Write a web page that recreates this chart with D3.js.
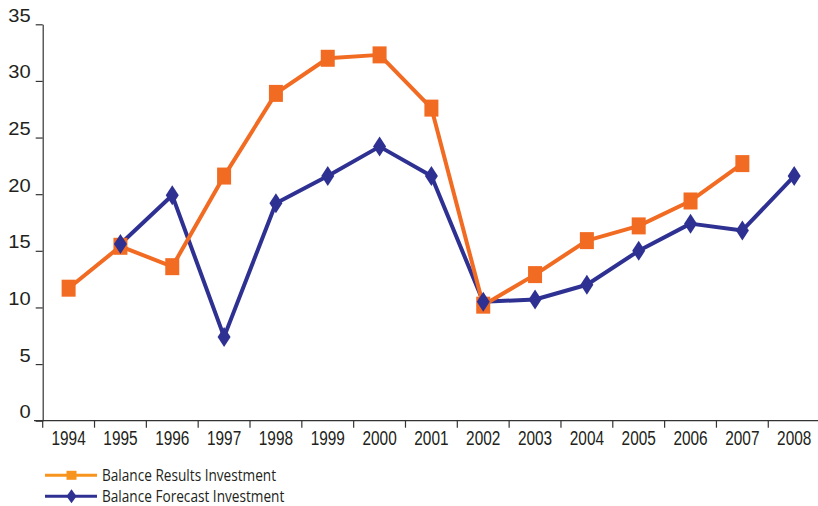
<!DOCTYPE html>
<html>
<head>
<meta charset="utf-8">
<script src="https://cdn.jsdelivr.net/npm/d3@7/dist/d3.min.js"></script>
<style>
  html, body { margin: 0; padding: 0; background: #fff; }
  svg { display: block; font-family: "Open Sans", "Noto Sans", sans-serif; }
</style>
</head>
<body>
<svg id="chart" width="818" height="506"></svg>
<script>
// Investment balance, results vs forecast (percent)
const years = ["1994","1995","1996","1997","1998","1999","2000","2001","2002","2003","2004","2005","2006","2007","2008"];
const resultsValues  = [11.7, 15.4, 13.6, 21.6, 28.9, 32.0, 32.3, 27.6, 10.2, 12.9, 15.9, 17.2, 19.4, 22.7, null];
const forecastValues = [null, 15.6, 19.9, 7.4, 19.2, 21.6, 24.2, 21.6, 10.5, 10.7, 12.0, 15.0, 17.4, 16.8, 21.6];
const yTicks = [0, 5, 10, 15, 20, 25, 30, 35];
const seriesNames = ["Balance Results Investment", "Balance Forecast Investment"];

const ORANGE = "#F26B22";
const ORANGE_KEY = "#F7941E";
const BLUE = "#2E3192";
const AXIS = "#333333";

const svg = d3.select("#chart");

const x = d3.scaleBand().domain(years).range([42.7, 820.1]).padding(0);
const y = d3.scaleLinear().domain([0, 35]).range([420.7, 24.3]);

// Y axis
const yAxis = svg.append("g")
  .attr("transform", "translate(42.7,0)")
  .call(d3.axisLeft(y).tickValues(yTicks).tickSize(7).tickSizeOuter(0).tickPadding(0));
yAxis.select(".domain").attr("stroke", AXIS).attr("stroke-width", 1.2);
yAxis.selectAll(".tick line").attr("stroke", AXIS).attr("stroke-width", 1.2);
yAxis.selectAll(".tick text")
  .attr("x", null).attr("dy", null)
  .attr("fill", "#231F20")
  .attr("font-size", 17.5)
  .attr("text-anchor", "end")
  .attr("transform", "translate(-12,-3) scale(1.15,1)");

// X axis: labels centred in each band, ticks on band edges
const xAxis = svg.append("g")
  .attr("transform", "translate(0,420.7)")
  .call(d3.axisBottom(x).tickSize(0).tickSizeOuter(0).tickPadding(0));
xAxis.select(".domain").remove();
xAxis.selectAll(".tick text")
  .attr("y", null).attr("dy", null)
  .attr("fill", "#231F20")
  .attr("font-size", 20)
  .attr("transform", "translate(0,24.5) scale(0.77,1)");

svg.append("line")
  .attr("x1", 34).attr("x2", 818)
  .attr("y1", y(0)).attr("y2", y(0))
  .attr("stroke", AXIS).attr("stroke-width", 1.2);

svg.append("g").selectAll("line")
  .data(years)
  .join("line")
  .attr("x1", d => x(d)).attr("x2", d => x(d))
  .attr("y1", y(0)).attr("y2", y(0) + 7)
  .attr("stroke", AXIS).attr("stroke-width", 1.2);

// Series
const cx = i => x(years[i]) + x.bandwidth() / 2;
const lineGen = d3.line()
  .defined(d => d != null)
  .x((d, i) => cx(i))
  .y(d => y(d));

const squarePath = (w, h) => `M${-w/2},${-h/2}h${w}v${h}h${-w}Z`;
const diamondPath = (w, h) => `M0,${-h/2}L${w/2},0L0,${h/2}L${-w/2},0Z`;

svg.append("path")
  .attr("d", lineGen(forecastValues))
  .attr("fill", "none").attr("stroke", BLUE).attr("stroke-width", 4)
  .attr("stroke-linejoin", "round");

svg.append("path")
  .attr("d", lineGen(resultsValues))
  .attr("fill", "none").attr("stroke", ORANGE).attr("stroke-width", 4)
  .attr("stroke-linejoin", "round");

svg.append("g").selectAll("path")
  .data(resultsValues.map((v, i) => ({v, i})).filter(d => d.v != null))
  .join("path")
  .attr("transform", d => `translate(${cx(d.i)},${y(d.v)})`)
  .attr("d", squarePath(14, 17))
  .attr("fill", ORANGE);

svg.append("g").selectAll("path")
  .data(forecastValues.map((v, i) => ({v, i})).filter(d => d.v != null))
  .join("path")
  .attr("transform", d => `translate(${cx(d.i)},${y(d.v)})`)
  .attr("d", diamondPath(13, 20))
  .attr("fill", BLUE);

// Legend
const legend = svg.append("g");
const keys = [
  {name: seriesNames[0], color: ORANGE_KEY, shape: squarePath(10, 9), y: 475.3},
  {name: seriesNames[1], color: BLUE, shape: diamondPath(10, 14), y: 496.3}
];
keys.forEach(k => {
  legend.append("line")
    .attr("x1", 45).attr("x2", 97)
    .attr("y1", k.y).attr("y2", k.y)
    .attr("stroke", k.color).attr("stroke-width", 3);
  legend.append("path")
    .attr("transform", `translate(71.5,${k.y})`)
    .attr("d", k.shape)
    .attr("fill", k.color);
  legend.append("text")
    .attr("transform", `translate(102,${k.y + 5.5}) scale(0.88,1)`)
    .attr("font-size", 15.5)
    .attr("fill", "#231F20")
    .text(k.name);
});
</script>
</body>
</html>
